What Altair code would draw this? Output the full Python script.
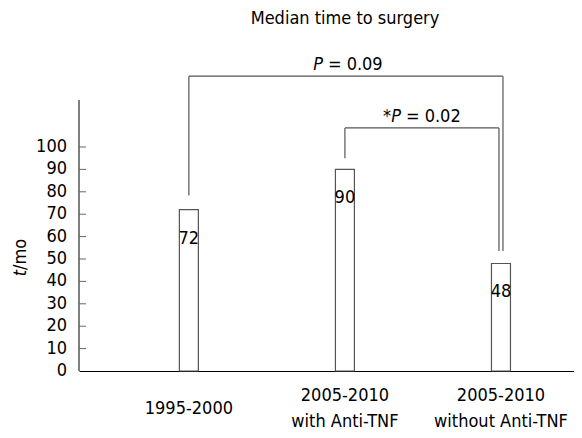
import altair as alt
import pandas as pd

# ---- data ----
categories = ["1995-2000", "2005-2010\nwith Anti-TNF", "2005-2010\nwithout Anti-TNF"]
median_months = [72, 90, 48]
y_ticks = [0, 10, 20, 30, 40, 50, 60, 70, 80, 90, 100]

# significance brackets (category numbers 1..3, heights in months)
bracket_from = [1, 2]
bracket_to = [3, 3]
bracket_height = [131.6, 108.5]
left_leg_end = [78.3, 95.0]
right_leg_end = [53.6, 53.6]
p_left = ["P", "*P"]
p_right = ["= 0.09", "= 0.02"]

title_text = "Median time to surgery"

# ---- styling ----
FONT = "DejaVu Sans Condensed, Noto Sans, sans-serif"
FS = 18
LINE = "#555555"
W, H = 495, 333
AXIS_TOP = 121

bars_df = pd.DataFrame({
    "pos": list(range(1, len(categories) + 1)),
    "value": median_months,
})
ticks_df = pd.DataFrame({"tick": y_ticks})
br_df = pd.DataFrame({
    "idx": list(range(len(bracket_from))),
    "from": bracket_from,
    "to": bracket_to,
    "height": bracket_height,
    "left_end": left_leg_end,
    "right_end": right_leg_end,
    "pl": p_left,
    "pr": p_right,
})
rows = []
for i, c in enumerate(categories):
    lines = c.split("\n")
    for j, ln in enumerate(lines):
        rows.append({"pos": i + 1, "line": ln, "j": j, "n": len(lines)})
xl_df = pd.DataFrame(rows)

xscale = alt.Scale(domain=[0.328, 3.436], nice=False, zero=False)
yscale = alt.Scale(domain=[0, 148.66], nice=False, zero=True)

xaxis = alt.Axis(
    values=list(range(1, len(categories) + 1)), labels=False,
    title=None, ticks=False, tickSize=0, grid=False,
    domainColor="black", domainWidth=1,
)

bars = alt.Chart(bars_df).mark_bar(
    size=19, fill="white", stroke=LINE, strokeWidth=1.2
).encode(
    x=alt.X("pos:Q", scale=xscale, axis=xaxis),
    y=alt.Y("value:Q", scale=yscale, axis=None),
)

bar_labels = alt.Chart(bars_df).mark_text(
    baseline="middle", dy=29, font=FONT, fontSize=FS, color="black"
).encode(
    x=alt.X("pos:Q", title=None),
    y=alt.Y("value:Q", title=None),
    text="value:Q",
)

x_labels = alt.Chart(xl_df).transform_calculate(
    ypix=f"{H} + 38 + (datum.j - (datum.n - 1) / 2) * 26"
).mark_text(
    baseline="middle", align="center", font=FONT, fontSize=FS, color="black"
).encode(
    x=alt.X("pos:Q", title=None),
    y=alt.Y("ypix:Q", scale=None, axis=None),
    text="line:N",
)

y_line = alt.Chart(pd.DataFrame({"a": [0]})).mark_rule(color="black", strokeWidth=1).encode(
    x=alt.value(0), y=alt.datum(0), y2=alt.datum(AXIS_TOP)
)

tick_marks = alt.Chart(ticks_df).transform_filter("datum.tick > 0").mark_rule(
    color="#666666", strokeWidth=1
).encode(
    x=alt.value(0), x2=alt.value(7), y=alt.Y("tick:Q", title=None)
)

tick_labels = alt.Chart(ticks_df).mark_text(
    align="right", baseline="middle", font=FONT, fontSize=FS, color="black"
).encode(
    x=alt.value(-12), y=alt.Y("tick:Q", title=None), text="tick:Q"
)


def bracket(i, right_off):
    base = alt.Chart(br_df).transform_filter(alt.datum.idx == i)
    horiz = base.mark_rule(color=LINE, strokeWidth=1.2, x2Offset=right_off).encode(
        x=alt.X("from:Q", title=None), x2="to:Q", y=alt.Y("height:Q", title=None)
    )
    left = base.mark_rule(color=LINE, strokeWidth=1.2).encode(
        x=alt.X("from:Q", title=None), y=alt.Y("height:Q", title=None), y2="left_end:Q"
    )
    right = base.mark_rule(color=LINE, strokeWidth=1.2, xOffset=right_off).encode(
        x=alt.X("to:Q", title=None), y=alt.Y("height:Q", title=None), y2="right_end:Q"
    )
    return [horiz, left, right]


p_base = alt.Chart(br_df).transform_calculate(mid="(datum['from'] + datum['to']) / 2")
p_text_left = p_base.mark_text(
    align="right", baseline="middle", dx=-22, dy=-11, font=FONT, fontSize=FS,
    fontStyle="italic", color="black"
).encode(x=alt.X("mid:Q", title=None), y=alt.Y("height:Q", title=None), text="pl:N")
p_text_right = p_base.mark_text(
    align="left", baseline="middle", dx=-17, dy=-11, font=FONT, fontSize=FS, color="black"
).encode(x=alt.X("mid:Q", title=None), y=alt.Y("height:Q", title=None), text="pr:N")

yt_italic = alt.Chart(pd.DataFrame({"part": ["t"]})).mark_text(
    angle=270, align="right", baseline="middle", font=FONT, fontSize=FS,
    fontStyle="italic", color="black"
).encode(x=alt.value(-58), y=alt.value(232), text="part:N")
yt_rest = alt.Chart(pd.DataFrame({"part": ["/mo"]})).mark_text(
    angle=270, align="left", baseline="middle", font=FONT, fontSize=FS, color="black"
).encode(x=alt.value(-58), y=alt.value(232), text="part:N")

chart = alt.layer(
    bars, bar_labels, x_labels, y_line, tick_marks, tick_labels,
    *bracket(0, 2), *bracket(1, -2),
    p_text_left, p_text_right, yt_italic, yt_rest,
).properties(
    width=W, height=H,
    padding={"left": 71, "top": 30, "right": 0, "bottom": 59},
    autosize=alt.AutoSizeParams(type="none"),
    title=alt.TitleParams(
        title_text, font=FONT, fontSize=FS, fontWeight="normal", color="black",
        anchor="middle", dx=18.5, offset=10,
    ),
).configure_view(stroke=None)

chart.save("out.html", embed_options={"renderer": "svg", "actions": False})
